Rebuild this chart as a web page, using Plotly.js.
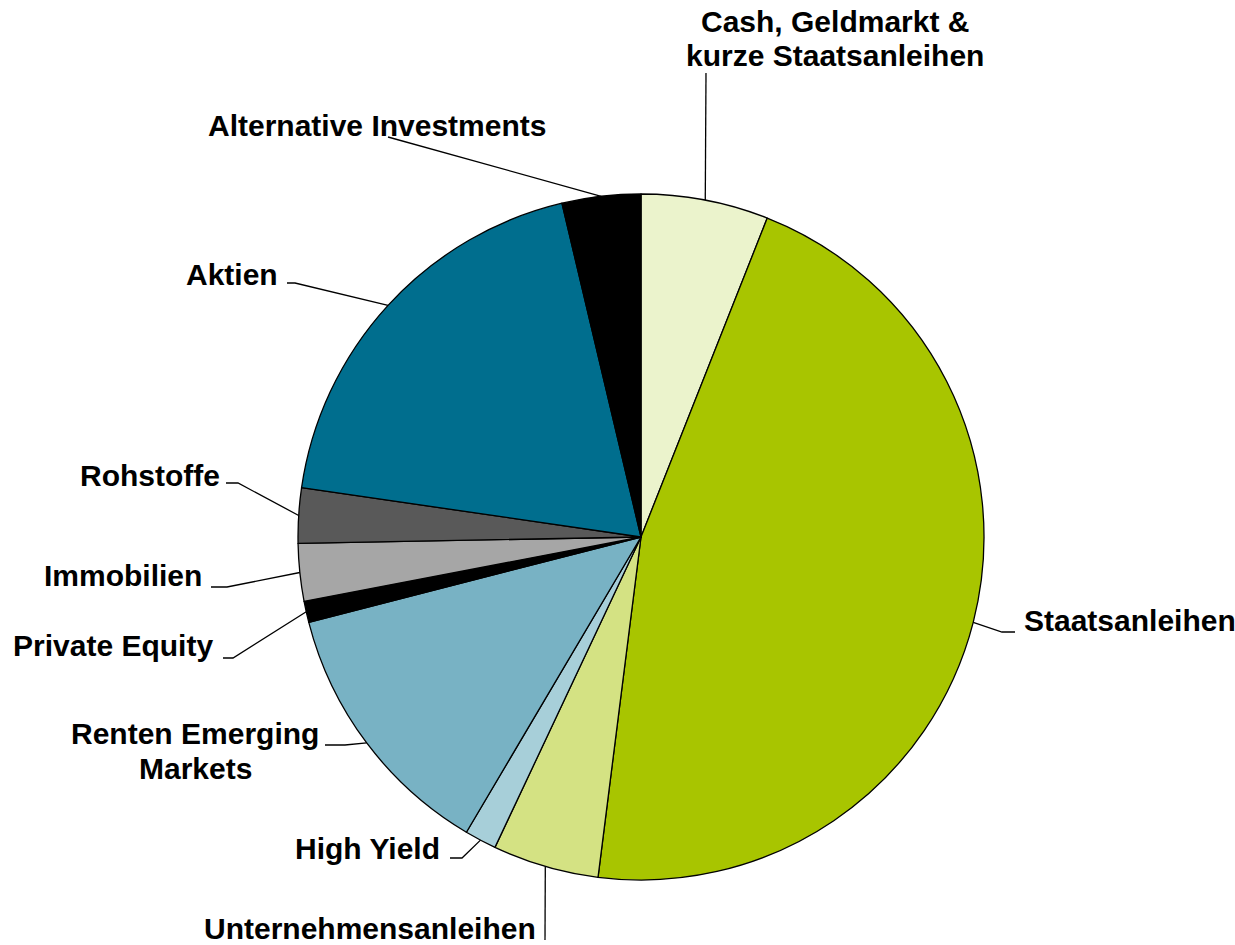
<!DOCTYPE html>
<html>
<head>
<meta charset="utf-8">
<script src="https://cdn.plot.ly/plotly-3.0.1.min.js"></script>
<style>html,body{margin:0;padding:0;background:#fff;}#chart{width:1235px;height:945px;}</style>
</head>
<body>
<div id="chart"></div>
<script>
// ---- data ----
const categories = [
  "Cash, Geldmarkt & kurze Staatsanleihen",
  "Staatsanleihen",
  "Unternehmensanleihen",
  "High Yield",
  "Renten Emerging Markets",
  "Private Equity",
  "Immobilien",
  "Rohstoffe",
  "Aktien",
  "Alternative Investments"
];
const values = [6, 46, 5, 1.5, 12.5, 1, 2.7, 2.6, 19, 3.7];
const labelLines = [
  ["Cash, Geldmarkt &", "kurze Staatsanleihen"],
  ["Staatsanleihen"],
  ["Unternehmensanleihen"],
  ["High Yield"],
  ["Renten Emerging", "Markets"],
  ["Private Equity"],
  ["Immobilien"],
  ["Rohstoffe"],
  ["Aktien"],
  ["Alternative Investments"]
];
const colors = ["#EBF3CC", "#A8C500", "#D4E283", "#A7CFD9", "#78B2C4",
                "#000000", "#A6A6A6", "#595959", "#006E8E", "#000000"];

// ---- layout (pixels) ----
const W = 1235, H = 945;
const CX = 641, CY = 537, R = 343;
const FS = 30, LH = 35;
// label placement: text anchor point (x, y of first line centre), alignment, leader line points after the slice anchor
const labelPlace = [
  {x: 835, y: 21, align: "center", path: [[706, 73]]},
  {x: 1022, y: 620, align: "left", path: [[1002, 632], [1015, 632]]},
  {x: 538, y: 928, align: "right", path: [[545, 940]]},
  {x: 442, y: 848, align: "right", path: [[462, 858], [450, 858]]},
  {x: 195, y: 733, align: "center", path: [[345, 745], [325, 745]]},
  {x: 215, y: 645, align: "right", path: [[233, 658], [223, 658]]},
  {x: 204, y: 575, align: "right", path: [[227, 587], [211, 587]]},
  {x: 222, y: 475, align: "right", path: [[238, 483], [226, 483]]},
  {x: 280, y: 274, align: "right", path: [[295, 283], [287, 283]]},
  {x: 377, y: 125, align: "center", path: [[388, 137]]}
];

const px = x => x / W;
const py = y => 1 - y / H;

const total = values.reduce((a, b) => a + b, 0);
let cum = 0;
const shapes = [];
const annotations = [];
values.forEach((v, i) => {
  const mid = (cum + v / 2) / total * 2 * Math.PI;
  cum += v;
  const ax = CX + R * Math.sin(mid);
  const ay = CY - R * Math.cos(mid);
  const lp = labelPlace[i];
  let d = `M ${px(ax)} ${py(ay)}`;
  lp.path.forEach(p => { d += ` L ${px(p[0])} ${py(p[1])}`; });
  shapes.push({type: "path", xref: "paper", yref: "paper", path: d,
               line: {color: "#000000", width: 1.3}});
  labelLines[i].forEach((t, k) => {
    annotations.push({
      xref: "paper", yref: "paper",
      x: px(lp.x), y: py(lp.y + k * LH),
      xanchor: lp.align, yanchor: "middle",
      text: "<b>" + t + "</b>", showarrow: false,
      font: {family: "'Liberation Sans', Arial, sans-serif", size: FS, color: "#000000"}
    });
  });
});

const trace = {
  type: "pie",
  labels: categories,
  values: values,
  sort: false,
  direction: "clockwise",
  rotation: 0,
  textinfo: "none",
  hoverinfo: "label+percent",
  marker: {colors: colors, line: {color: "#000000", width: 1.3}},
  domain: {x: [px(CX - R), px(CX + R)], y: [py(CY + R), py(CY - R)]},
  showlegend: false
};

const layout = {
  width: W, height: H,
  margin: {l: 0, r: 0, t: 0, b: 0},
  paper_bgcolor: "#ffffff",
  showlegend: false,
  shapes: shapes,
  annotations: annotations
};

Plotly.newPlot("chart", [trace], layout, {displayModeBar: false, staticPlot: true});
</script>
</body>
</html>
